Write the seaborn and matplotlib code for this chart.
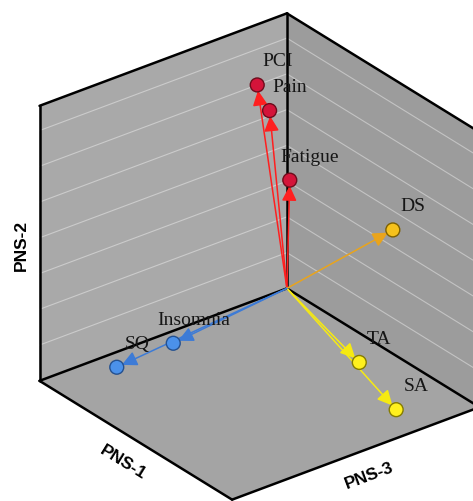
import numpy as np
import matplotlib
matplotlib.use("Agg")
import matplotlib.pyplot as plt
import seaborn as sns
from matplotlib.patches import FancyArrowPatch
from matplotlib.ticker import NullLocator
from matplotlib.transforms import offset_copy
from mpl_toolkits.mplot3d import proj3d
from mpl_toolkits.mplot3d.art3d import Poly3DCollection

# ---------------- data ----------------
variables = ["PCI", "Pain", "Fatigue", "DS", "TA", "SA", "Insomnia", "SQ"]
pns3 = [0.12, 0.07, 0.00, 0.00, 0.12, 0.22, 0.51, 0.75]    # x axis
pns1 = [0.00, 0.00, 0.015, 0.55, 0.53, 0.85, 0.065, 0.08]  # y axis
pns2 = [0.78, 0.67, 0.40, 0.45, 0.00, 0.00, 0.00, 0.00]    # z axis
groups = ["pain", "pain", "pain", "mood", "anx", "anx", "sleep", "sleep"]
axis_titles = ["PNS-1", "PNS-2", "PNS-3"]
grid_levels = [0.13, 0.26, 0.39, 0.52, 0.65, 0.78, 0.91]

line_colors = {"pain": "#ff1f1f", "mood": "#e9a41c", "anx": "#f6ea12", "sleep": "#3d7bd6"}
face_colors = {"pain": "#d4143a", "mood": "#f6c21c", "anx": "#fff01e", "sleep": "#4b91ea"}
edge_colors = {"pain": "#6e0c1c", "mood": "#7d6000", "anx": "#857c00", "sleep": "#24508f"}

sns.set_theme(style="white")


class Arrow3D(FancyArrowPatch):
    def __init__(self, xs, ys, zs, **kw):
        super().__init__((0, 0), (0, 0), **kw)
        self._verts3d = (np.asarray(xs, float), np.asarray(ys, float), np.asarray(zs, float))

    def do_3d_projection(self, renderer=None):
        xs, ys, zs = proj3d.proj_transform(*self._verts3d, self.axes.M)
        self.set_positions((xs[0], ys[0]), (xs[1], ys[1]))
        return np.min(zs)


W, H = 473, 502
fig = plt.figure(figsize=(W / 100, H / 100), dpi=100)
fig.patch.set_facecolor("white")
S0, L0, B0 = 400.0, 40.0, 40.0
ax = fig.add_axes([L0 / W, B0 / H, S0 / W, S0 / H], projection="3d",
                  proj_type="ortho", computed_zorder=False)
ax.view_init(elev=28.7, azim=52.1)
ax.set_box_aspect((1, 1, 1))
for setter in (ax.set_xlim, ax.set_ylim, ax.set_zlim):
    try:
        setter(0, 1, view_margin=0)
    except TypeError:
        setter(0, 1)
ax.set_axis_off()
# keep the unused built-in (empty) texts inside the canvas
for a in (ax.xaxis, ax.yaxis, ax.zaxis):
    a.set_major_locator(NullLocator())
    a.set_minor_locator(NullLocator())
    for t in (a.label, a.offsetText):
        t.set_transform(ax.transAxes)
        t.set_position((0.5, 0.5))
        t.set_visible(False)
for t in (ax.title, ax._left_title, ax._right_title):
    t.set_position((0.5, 0.5))
    t.set_visible(False)

# walls (back panes)
walls = [
    [(0, 0, 0), (0, 1, 0), (0, 1, 1), (0, 0, 1)],   # right wall (x = 0)
    [(0, 0, 0), (1, 0, 0), (1, 0, 1), (0, 0, 1)],   # left wall (y = 0)
    [(0, 0, 0), (1, 0, 0), (1, 1, 0), (0, 1, 0)],   # floor (z = 0)
]
wall_colors = [(0.612, 0.612, 0.612), (0.663, 0.663, 0.663), (0.643, 0.643, 0.643)]
ax.add_collection3d(Poly3DCollection(walls, facecolors=wall_colors, edgecolors="none",
                                     linewidths=0, zorder=0))

# horizontal gridlines on both walls
for lv in grid_levels:
    ax.plot([1, 0, 0], [0, 0, 1], [lv, lv, lv], color=(1, 1, 1, 0.40), lw=0.8, zorder=1)

# box edges
edges = [((0, 0, 0), (0, 0, 1)), ((1, 0, 0), (1, 0, 1)), ((0, 1, 0), (0, 1, 1)),
         ((0, 0, 1), (1, 0, 1)), ((0, 0, 1), (0, 1, 1)),
         ((0, 0, 0), (1, 0, 0)), ((0, 0, 0), (0, 1, 0)),
         ((1, 0, 0), (1, 1, 0)), ((0, 1, 0), (1, 1, 0))]
for p, q in edges:
    ax.plot([p[0], q[0]], [p[1], q[1]], [p[2], q[2]], color="black", lw=1.8,
            solid_capstyle="round", zorder=2)

# arrows
for i in range(len(variables)):
    g = groups[i]
    arr = Arrow3D([0, pns3[i]], [0, pns1[i]], [0, pns2[i]],
                  arrowstyle="-|>,head_length=0.65,head_width=0.32", mutation_scale=14,
                  color=line_colors[g], lw=1.1, shrinkA=0, shrinkB=4, zorder=3)
    ax.add_artist(arr)

# markers
ax.scatter(pns3, pns1, pns2, s=100, c=[face_colors[g] for g in groups],
           edgecolors=[edge_colors[g] for g in groups], linewidths=1.0,
           depthshade=False, zorder=4, alpha=1)

# labels
lab_tr = offset_copy(ax.transData, fig=fig, x=20, y=24, units="dots")
for i, name in enumerate(variables):
    ax.text(pns3[i], pns1[i], pns2[i], name, transform=lab_tr, ha="center", va="center",
            fontsize=14, family="Liberation Serif", color="#161616", zorder=5)

# axis titles
tkw = dict(ha="center", va="center", fontsize=12.5, fontweight="bold",
           family="Liberation Sans", color="black", zorder=5)
ax.text(1.12, 0.59, 0, axis_titles[0], zdir="y", **tkw)
ax.text(1.075, 0.0, 0.52, axis_titles[1], zdir="z", **tkw)
ax.text(0.556, 1.139, 0, axis_titles[2], zdir="x", **tkw)

# fit the cube to the canvas
fig.canvas.draw()


def to_px(p):
    xs, ys, _ = proj3d.proj_transform(np.array([p[0]], float), np.array([p[1]], float),
                                      np.array([p[2]], float), ax.M)
    return ax.transData.transform(np.column_stack([xs, ys]))[0]


bt = to_px((0, 0, 1))
bb = to_px((0, 0, 0))
fb = to_px((1, 1, 0))
s = 275.0 / (bt[1] - bb[1])
c = (bt + fb) / 2
S1 = S0 * s
L1 = 259.5 - (c[0] - L0) * s
B1 = (H - 257.5) - (c[1] - B0) * s
ax.set_position([L1 / W, B1 / H, S1 / W, S1 / H])

fig.savefig("out.png", dpi=100, facecolor="white")
